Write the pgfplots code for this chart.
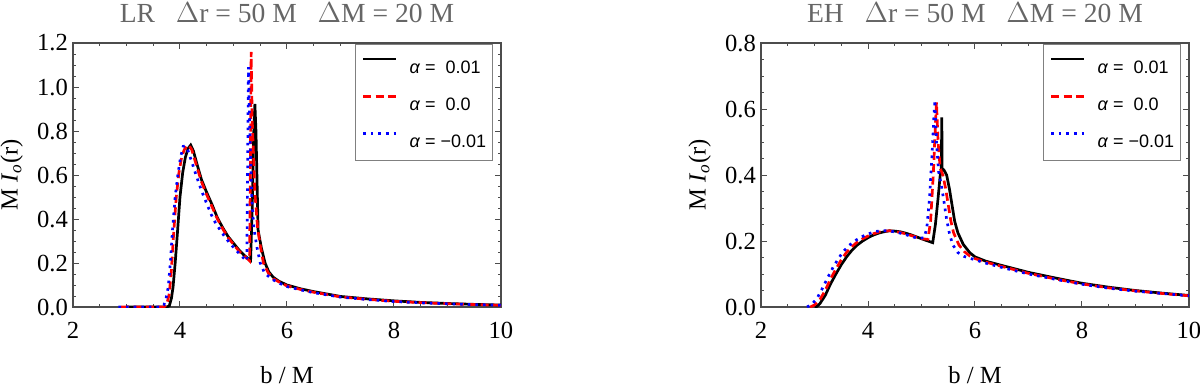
\documentclass[border=0pt]{standalone}
\usepackage{fontspec}
\setmainfont{Liberation Serif}
\setsansfont{Liberation Sans}
\usepackage{pgfplots}
\pgfplotsset{compat=1.18}

\definecolor{framegray}{gray}{0.3}
\definecolor{titlegray}{gray}{0.4}

\pgfplotsset{
  panel/.style={
    scale only axis,
    width=214pt, height=132pt,
    xmin=2, xmax=10,
    xtick={2,4,6,8,10},
    minor x tick num=3,
    minor y tick num=3,
    axis line style={framegray, line width=0.6pt},
    tick style={framegray, line width=0.5pt},
    major tick length=3pt,
    minor tick length=1.7pt,
    tick align=inside,
    font=\fontsize{12.3}{14}\selectfont,
    /pgf/number format/assume math mode=true,
    /pgf/number format/fixed,
    /pgf/number format/fixed zerofill,
    /pgf/number format/precision=1,
    xticklabel style={yshift=-4pt, /pgf/number format/precision=0, /pgf/number format/fixed zerofill=false},
    yticklabel style={xshift=1pt},
    xlabel={b / M},
    ylabel={M \textit{I}\textsubscript{\textit{o}}(r)},
    xlabel style={at={(axis description cs:0.5,-0.258)}, anchor=center},
    ylabel style={at={(axis description cs:-0.143,0.5)}, anchor=center},
    every axis title shift=0pt,
    title style={at={(axis description cs:0.5,1)}, anchor=base, yshift=10.5pt,
      text=titlegray, font=\fontsize{13.8}{15}\selectfont},
    legend cell align=left,
    legend style={
      at={(axis description cs:0.981,0.996)}, anchor=north east,
      draw=gray, line width=0.6pt, fill=white,
      font=\sffamily\fontsize{9}{10}\selectfont,
      inner xsep=3pt, inner ysep=6.5pt,
      row sep=11pt, column sep=6pt,
      nodes={inner sep=0pt, text height=7pt, text depth=0pt},
    },
    legend image code/.code={\draw[#1] (0pt,3.5pt) -- (16.5pt,3.5pt);},
  },
  alphaP/.style={black, line width=1.35pt},
  alphaZ/.style={red, line width=1.35pt, dash pattern=on 4pt off 2.2pt},
  alphaN/.style={blue, line width=1.35pt, dash pattern=on 1.3pt off 2.5pt},
}

\begin{document}
\begin{tikzpicture}
\useasboundingbox (0,0) rectangle (600pt,194pt);

% ---------- LR ----------
\begin{axis}[panel,
  at={(36.5pt,40.5pt)}, anchor=south west,
  ymin=0, ymax=1.2, ytick={0,0.2,...,1.2},
  title={LR\ \ \ \(\Delta\)r = 50 M\ \ \ \(\Delta\)M = 20 M},
]
\addplot[alphaP] coordinates {
  (3.0,0) (3.75,0) (3.8,0.005) (3.84,0.04) (3.87,0.09) (3.91,0.2) (3.95,0.33)
  (4.0,0.5) (4.05,0.61) (4.1,0.68) (4.15,0.72) (4.2,0.736) (4.25,0.71)
  (4.3,0.665) (4.4,0.58) (4.5,0.52) (4.6,0.465) (4.7,0.405) (4.8,0.36)
  (4.9,0.32) (5.0,0.29) (5.1,0.26) (5.2,0.235) (5.3,0.215) (5.32,0.212)
  (5.35,0.45) (5.38,0.8) (5.4,0.923) (5.42,0.8) (5.46,0.35) (5.52,0.27)
  (5.59,0.2) (5.66,0.16) (5.74,0.136) (5.85,0.117) (6.0,0.1) (6.25,0.083)
  (6.5,0.07) (7.0,0.048) (7.5,0.037) (8.0,0.028) (8.5,0.021) (9.0,0.016)
  (9.5,0.012) (10.0,0.009)
};
\addlegendentry{\textit{α} =\ \ 0.01}
\addplot[alphaZ] coordinates {
  (2.9,0) (3.7,0) (3.75,0.01) (3.8,0.06) (3.84,0.17) (3.88,0.33)
  (3.93,0.5) (3.98,0.61) (4.03,0.68) (4.08,0.715) (4.13,0.733) (4.17,0.735)
  (4.22,0.715) (4.3,0.65) (4.4,0.57) (4.5,0.51) (4.6,0.455) (4.7,0.4)
  (4.8,0.355) (4.9,0.315) (5.0,0.285) (5.1,0.255) (5.2,0.232) (5.28,0.215)
  (5.3,0.21) (5.315,0.6) (5.33,1.16) (5.35,0.85) (5.4,0.52) (5.45,0.36)
  (5.5,0.28) (5.56,0.2) (5.65,0.155) (5.75,0.128) (5.88,0.11) (6.0,0.096)
  (6.25,0.08) (6.5,0.067) (7.0,0.046) (7.5,0.035) (8.0,0.026) (8.5,0.02)
  (9.0,0.015) (9.5,0.011) (10.0,0.008)
};
\addlegendentry{\textit{α} =\ \ 0.0}
\addplot[alphaN] coordinates {
  (2.85,0) (3.65,0) (3.7,0.01) (3.74,0.04) (3.78,0.09) (3.82,0.2)
  (3.86,0.35) (3.91,0.5) (3.96,0.6) (4.01,0.68) (4.06,0.73) (4.1,0.732)
  (4.15,0.71) (4.22,0.66) (4.3,0.6) (4.4,0.53) (4.5,0.47) (4.62,0.4)
  (4.75,0.35) (4.85,0.315) (4.95,0.285) (5.05,0.258) (5.15,0.232)
  (5.22,0.215) (5.25,0.21) (5.265,0.65) (5.28,1.09) (5.3,0.85) (5.34,0.5)
  (5.38,0.36) (5.44,0.27) (5.5,0.2) (5.58,0.155) (5.7,0.13) (5.82,0.112)
  (6.0,0.093) (6.25,0.078) (6.5,0.065) (7.0,0.045) (7.5,0.034) (8.0,0.025)
  (8.5,0.019) (9.0,0.015) (9.5,0.011) (10.0,0.008)
};
\addlegendentry{\textit{α} = −0.01}
\end{axis}

% ---------- EH ----------
\begin{axis}[panel,
  at={(380.5pt,40.5pt)}, anchor=south west,
  ymin=0, ymax=0.8, ytick={0,0.2,...,0.8},
  title={EH\ \ \ \(\Delta\)r = 50 M\ \ \ \(\Delta\)M = 20 M},
]
\addplot[alphaP] coordinates {
  (3.0,0) (3.05,0.002) (3.1,0.01) (3.2,0.035) (3.3,0.07) (3.4,0.1)
  (3.5,0.128) (3.6,0.152) (3.7,0.172) (3.8,0.188) (3.9,0.2) (4.0,0.21)
  (4.1,0.218) (4.2,0.224) (4.3,0.228) (4.4,0.231) (4.5,0.23) (4.6,0.228)
  (4.7,0.224) (4.8,0.219) (4.9,0.213) (5.0,0.207) (5.1,0.201) (5.21,0.195)
  (5.26,0.25) (5.31,0.33) (5.35,0.4) (5.37,0.415) (5.38,0.575) (5.385,0.42)
  (5.42,0.415) (5.47,0.4) (5.52,0.36) (5.57,0.31) (5.62,0.26) (5.68,0.225)
  (5.78,0.19) (5.9,0.165) (6.0,0.152) (6.2,0.139) (6.5,0.126) (7.0,0.105)
  (7.5,0.088) (8.0,0.072) (8.5,0.06) (9.0,0.05) (9.5,0.042) (10.0,0.035)
};
\addlegendentry{\textit{α} =\ \ 0.01}
\addplot[alphaZ] coordinates {
  (2.92,0) (3.0,0.006) (3.1,0.022) (3.2,0.05) (3.3,0.085) (3.4,0.115)
  (3.5,0.143) (3.6,0.166) (3.7,0.183) (3.8,0.197) (3.9,0.207) (4.0,0.215)
  (4.1,0.222) (4.2,0.227) (4.3,0.23) (4.4,0.231) (4.5,0.229) (4.6,0.226)
  (4.7,0.222) (4.8,0.217) (4.9,0.212) (5.0,0.207) (5.12,0.205) (5.17,0.26)
  (5.22,0.4) (5.26,0.55) (5.28,0.62) (5.31,0.5) (5.35,0.42) (5.4,0.4)
  (5.45,0.36) (5.5,0.31) (5.55,0.26) (5.6,0.225) (5.7,0.188) (5.8,0.168)
  (5.9,0.155) (6.0,0.147) (6.2,0.136) (6.5,0.123) (7.0,0.102) (7.5,0.085)
  (8.0,0.07) (8.5,0.058) (9.0,0.049) (9.5,0.041) (10.0,0.034)
};
\addlegendentry{\textit{α} =\ \ 0.0}
\addplot[alphaN] coordinates {
  (2.86,0) (2.95,0.008) (3.05,0.027) (3.15,0.057) (3.25,0.09) (3.35,0.121)
  (3.45,0.148) (3.55,0.17) (3.65,0.187) (3.75,0.2) (3.85,0.21) (3.95,0.218)
  (4.05,0.224) (4.15,0.229) (4.25,0.231) (4.35,0.231) (4.45,0.229)
  (4.55,0.226) (4.65,0.222) (4.75,0.217) (4.85,0.212) (4.95,0.208)
  (5.05,0.21) (5.1,0.24) (5.15,0.33) (5.2,0.47) (5.23,0.57) (5.25,0.627)
  (5.28,0.5) (5.32,0.41) (5.37,0.37) (5.42,0.32) (5.47,0.265) (5.52,0.225)
  (5.58,0.19) (5.68,0.165) (5.8,0.153) (6.0,0.143) (6.2,0.133) (6.5,0.12)
  (7.0,0.1) (7.5,0.084) (8.0,0.069) (8.5,0.057) (9.0,0.048) (9.5,0.041)
  (10.0,0.034)
};
\addlegendentry{\textit{α} = −0.01}
\end{axis}
\end{tikzpicture}
\end{document}
